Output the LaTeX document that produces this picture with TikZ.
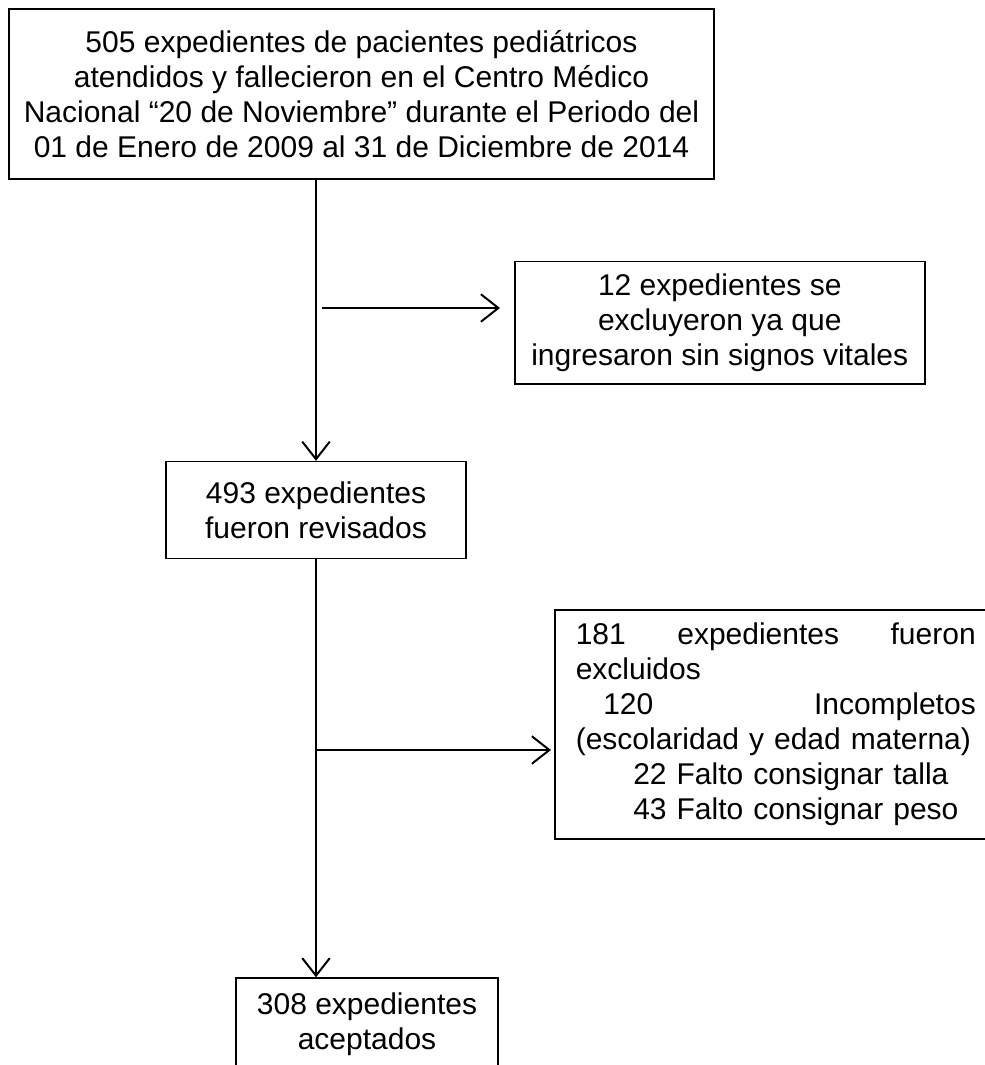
\documentclass[tikz,border=0pt]{standalone}
\usepackage{fontspec}
\setmainfont{Liberation Sans}
\usetikzlibrary{arrows.meta, positioning}

\begin{document}
\begin{tikzpicture}[
  x=0.4pt, y=-0.4pt,
  box/.style={draw, line width=0.6pt, inner sep=3pt, align=center,
              font=\fontsize{12}{14}\selectfont},
  arrow/.style={-{Straight Barb[length=7pt, width=11pt]}, line width=0.8pt}
]
\useasboundingbox (0,0) rectangle (985,1065);
\clip (0,0) rectangle (985,1065);

\node[box, minimum width=282pt, minimum height=68pt] (total) at (361.5,94)
  {505 expedientes de pacientes pediátricos\\atendidos y fallecieron en el Centro Médico\\Nacional “20 de Noviembre” durante el Periodo del\\01 de Enero de 2009 al 31 de Diciembre de 2014};
\node[box, minimum width=120pt, minimum height=38.8pt, below=112.4pt of total, xshift=-18.2pt] (revised)
  {493 expedientes\\fueron revisados};
\node[box, minimum width=164pt, minimum height=48.8pt, anchor=north west] (noVital) at (514,261)
  {12 expedientes se\\excluyeron ya que\\ingresaron sin signos vitales};
\node[box, text width=160pt, inner xsep=8.4pt, minimum height=91.6pt, align=left, anchor=north west] (incomplete) at (554,609)
  {181\hfill expedientes\hfill fueron\\
   excluidos\\
   \hspace*{11pt}120\hfill Incompletos\\
   (escolaridad y edad materna)\\
   \hspace*{23pt}22 Falto consignar talla\\
   \hspace*{23pt}43 Falto consignar peso};
\node[box, minimum width=104.8pt, minimum height=36.8pt, below=167.2pt of revised, xshift=20.4pt] (accepted)
  {308 expedientes\\aceptados};

% free ends of the side arrows
\coordinate (split1) at (322,308);
\coordinate (split2) at (316,750);

\draw[arrow] (total.south -| revised.north) -- (revised.north);
\draw[arrow, shorten >=5.6pt] (split1) -- (split1 -| noVital.west);
\draw[arrow] (revised.south) -- (revised.south |- accepted.north);
\draw[arrow, shorten >=1.2pt] (split2) -- (split2 -| incomplete.west);
\end{tikzpicture}
\end{document}
